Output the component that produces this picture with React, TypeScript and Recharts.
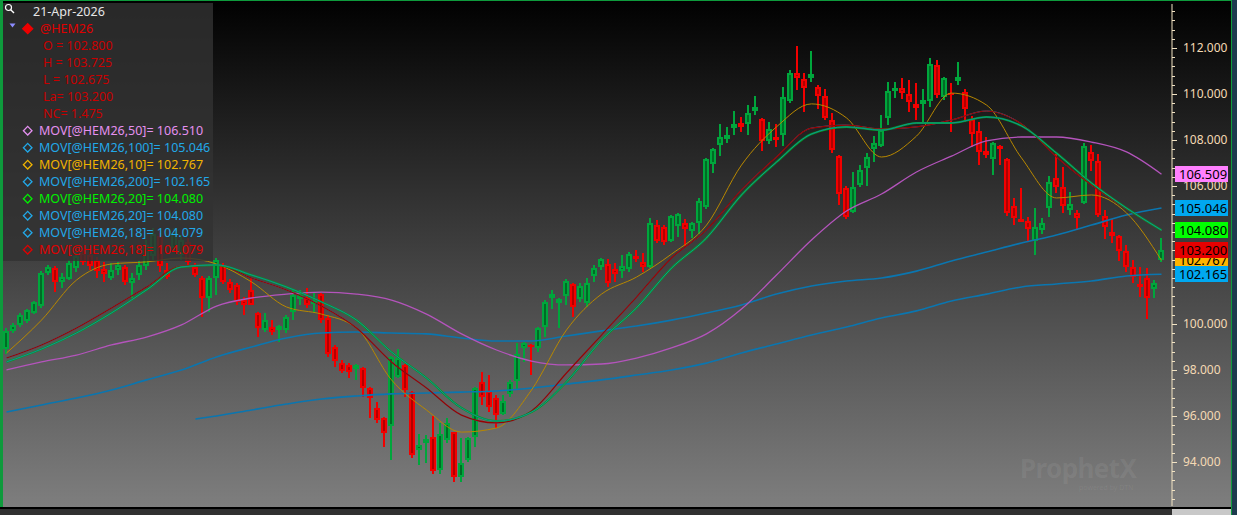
import React from "react";
import { ComposedChart, Bar, Line, XAxis, YAxis, ReferenceLine } from "recharts";

// daily bars of @HEM26, oldest first; the last one is 21-Apr-2026
const opens = [
  98.91, 99.70, 99.96, 100.13, 100.48, 100.78, 102.22, 102.43, 101.83, 101.96,
  102.43, 103.09, 103.00, 102.78, 102.39, 102.00, 102.35, 102.48, 101.78, 102.13,
  102.52, 102.96, 103.83, 102.35, 103.30, 103.00, 103.57, 102.48, 102.00, 101.13,
  102.00, 102.57, 101.83, 101.70, 101.04, 101.48, 100.48, 99.74, 99.87, 99.74,
  99.74, 100.52, 101.09, 101.13, 100.87, 101.30, 100.26, 99.00, 98.30, 98.22,
  98.04, 98.09, 97.22, 96.35, 95.91, 95.57, 97.70, 98.22, 97.04, 94.52,
  94.83, 95.09, 93.65, 94.96, 95.30, 93.35, 94.09, 95.09, 97.48, 97.09,
  96.78, 96.09, 96.96, 97.52, 98.96, 99.09, 98.96, 99.87, 101.13, 100.91,
  101.22, 101.74, 101.09, 100.91, 102.09, 102.48, 102.61, 102.39, 102.30, 102.39,
  102.96, 102.70, 102.48, 104.30, 104.22, 103.61, 104.26, 104.39, 104.04, 104.39,
  105.09, 106.96, 107.78, 108.04, 108.52, 108.74, 108.70, 109.26, 108.91, 107.96,
  108.13, 108.22, 109.70, 110.91, 110.65, 110.70, 110.30, 109.91, 108.87, 107.30,
  105.91, 104.87, 106.04, 106.78, 107.61, 107.74, 108.96, 110.13, 110.26, 110.00,
  109.57, 109.57, 109.70, 111.26, 109.87, 110.04, 110.57, 110.09, 108.91, 108.39,
  107.52, 107.17, 107.74, 107.17, 105.13, 104.57, 104.48, 103.61, 104.09, 105.04,
  106.35, 105.96, 104.96, 104.83, 105.26, 107.48, 107.09, 104.70, 104.00, 103.83,
  103.17, 102.48, 101.74, 102.00, 101.52, 102.80,
];
const highs = [
  99.83, 100.04, 100.48, 100.65, 101.00, 102.30, 102.57, 102.52, 102.22, 102.78,
  103.22, 103.22, 103.13, 102.91, 102.70, 102.65, 102.70, 102.57, 102.22, 102.74,
  103.65, 104.17, 103.96, 102.65, 104.17, 103.87, 103.74, 102.65, 102.09, 102.09,
  102.87, 102.65, 101.96, 101.78, 101.17, 102.00, 100.52, 100.48, 100.17, 99.96,
  100.39, 101.52, 101.48, 101.57, 101.35, 101.35, 100.39, 99.09, 98.43, 98.30,
  98.26, 98.13, 97.26, 96.61, 95.96, 98.61, 98.91, 98.26, 97.09, 95.22,
  95.17, 96.00, 95.70, 95.91, 95.30, 95.04, 95.09, 97.26, 97.91, 97.78,
  96.91, 96.91, 97.57, 99.17, 99.22, 99.13, 99.87, 101.04, 101.48, 101.13,
  101.96, 101.78, 101.78, 102.00, 102.57, 102.87, 102.83, 102.65, 103.00, 103.13,
  103.22, 103.09, 104.61, 104.52, 104.30, 104.74, 104.83, 104.57, 104.43, 105.48,
  107.22, 107.65, 108.70, 108.57, 109.26, 109.00, 109.52, 109.91, 108.96, 108.78,
  108.70, 110.30, 111.04, 112.09, 110.91, 111.87, 110.39, 110.22, 109.17, 107.35,
  106.00, 106.61, 106.91, 107.43, 108.17, 109.09, 110.52, 110.52, 110.70, 110.61,
  110.48, 110.22, 111.57, 111.48, 110.74, 110.48, 111.39, 110.22, 109.04, 108.78,
  108.13, 107.91, 107.78, 107.22, 105.48, 105.91, 104.65, 105.04, 104.61, 106.43,
  107.39, 106.83, 105.74, 104.96, 107.87, 107.78, 107.39, 104.96, 104.57, 103.87,
  103.43, 102.78, 102.48, 102.43, 101.91, 103.725,
];
const lows = [
  98.70, 99.61, 99.87, 100.04, 100.43, 100.70, 102.13, 101.39, 101.57, 101.91,
  102.26, 102.57, 102.35, 102.00, 101.83, 101.91, 102.13, 101.70, 101.13, 101.91,
  102.35, 102.78, 102.26, 101.96, 103.13, 102.78, 102.57, 102.04, 100.30, 100.52,
  101.26, 101.74, 101.35, 100.83, 100.39, 100.83, 99.43, 99.65, 99.52, 99.22,
  99.61, 100.17, 100.83, 100.70, 100.48, 100.04, 98.57, 98.13, 97.87, 97.65,
  97.57, 96.83, 95.91, 95.70, 94.65, 94.09, 97.65, 96.83, 94.17, 93.87,
  93.96, 93.48, 93.48, 94.83, 93.13, 93.13, 94.00, 94.65, 96.48, 96.17,
  95.48, 96.04, 96.83, 97.13, 98.35, 97.78, 98.78, 99.43, 100.65, 99.83,
  100.83, 100.30, 100.96, 100.74, 101.83, 102.35, 101.61, 101.83, 102.00, 102.26,
  102.70, 102.26, 102.43, 103.52, 103.43, 103.57, 103.78, 103.39, 103.74, 103.91,
  105.00, 106.57, 107.30, 107.87, 108.22, 108.35, 108.22, 109.09, 107.52, 107.83,
  107.70, 107.74, 109.61, 110.17, 109.22, 110.52, 109.35, 108.87, 107.43, 105.17,
  104.57, 104.83, 105.96, 106.00, 107.04, 107.70, 108.65, 109.83, 109.78, 109.22,
  108.87, 108.78, 109.43, 109.83, 109.74, 108.35, 110.39, 108.78, 107.70, 106.91,
  107.22, 106.48, 106.91, 104.70, 104.30, 104.43, 103.57, 103.00, 103.91, 104.65,
  105.70, 104.83, 104.74, 104.09, 105.22, 106.65, 104.65, 103.70, 103.52, 102.74,
  102.26, 101.78, 101.17, 100.22, 101.13, 102.675,
];
const closes = [
  99.70, 99.96, 100.39, 100.61, 100.96, 102.22, 102.48, 101.83, 102.04, 102.65,
  102.96, 102.70, 102.52, 102.30, 102.17, 102.35, 102.57, 101.83, 102.00, 102.57,
  103.43, 103.91, 102.52, 102.04, 103.96, 103.65, 102.70, 102.13, 101.13, 102.00,
  102.78, 101.83, 101.48, 100.96, 100.83, 100.83, 99.83, 100.17, 99.65, 99.91,
  100.30, 101.26, 101.26, 100.83, 101.00, 100.17, 98.70, 98.39, 97.96, 97.91,
  98.22, 97.22, 96.78, 95.83, 95.26, 98.57, 98.52, 97.13, 94.30, 94.74,
  95.00, 93.61, 95.22, 95.70, 93.35, 93.96, 95.04, 97.22, 96.83, 96.39,
  96.04, 96.65, 97.48, 98.70, 99.17, 99.00, 99.83, 100.96, 101.30, 101.09,
  101.87, 100.74, 101.65, 101.78, 102.43, 102.83, 101.78, 102.17, 102.52, 103.04,
  102.83, 102.48, 104.39, 103.61, 103.57, 104.70, 104.78, 104.13, 104.39, 105.35,
  107.17, 107.61, 108.13, 108.22, 108.70, 108.57, 109.17, 109.43, 107.96, 108.48,
  108.00, 109.87, 110.91, 110.70, 110.26, 110.87, 109.91, 108.96, 107.57, 105.65,
  104.65, 105.96, 106.70, 107.26, 107.87, 108.43, 110.13, 110.26, 110.04, 109.65,
  109.39, 109.74, 111.30, 109.96, 110.70, 109.96, 110.74, 109.35, 108.26, 107.48,
  107.35, 107.87, 107.61, 104.83, 104.61, 104.43, 104.13, 104.22, 104.39, 106.17,
  105.96, 105.13, 105.22, 104.61, 107.74, 107.09, 104.74, 104.22, 103.83, 103.17,
  102.48, 102.04, 101.61, 101.13, 101.78, 103.20,
];

// moving averages every 5th bar
const maBars = [
  0, 5, 10, 15, 20, 25, 30, 35, 40, 45, 50, 55, 60, 65, 70, 75, 80,
  85, 90, 95, 100, 105, 110, 115, 120, 125, 130, 135, 140, 145, 150, 155, 160, 165,
];
const ma10 = [
  98.74, 100.17, 101.91, 102.61, 102.70, 102.87, 102.61, 101.83, 100.74, 100.43, 99.83, 97.57, 96.26, 95.30, 95.48, 97.13, 99.74,
  101.30, 102.04, 103.04, 104.30, 106.91, 108.57, 109.57, 108.96, 107.26, 108.17, 110.04, 109.52, 107.22, 105.48, 105.61, 104.83, 102.767,
];
const ma18 = [
  98.52, 99.09, 99.83, 100.70, 101.61, 102.52, 102.57, 102.00, 101.48, 100.78, 99.83, 98.35, 97.22, 96.04, 95.70, 96.22, 97.87,
  99.52, 101.17, 102.87, 104.09, 105.83, 107.26, 108.52, 108.65, 108.48, 108.57, 108.87, 109.26, 108.70, 107.26, 106.04, 105.00, 104.079,
];
const ma20 = [
  98.35, 98.91, 99.61, 100.48, 101.48, 102.48, 102.57, 102.13, 101.61, 100.96, 100.17, 98.78, 97.65, 96.35, 95.78, 96.17, 97.48,
  99.30, 100.70, 102.43, 103.74, 105.61, 107.04, 108.26, 108.57, 108.43, 108.74, 108.74, 109.00, 108.61, 107.43, 106.13, 105.04, 104.08,
];
const ma50 = [
  98.00, 98.35, 98.65, 99.09, 99.43, 99.96, 100.78, 101.13, 101.30, 101.39, 101.30, 101.04, 100.43, 99.57, 98.87, 98.39, 98.22,
  98.26, 98.52, 98.96, 99.57, 100.65, 102.13, 103.65, 104.91, 105.65, 106.61, 107.30, 107.96, 108.13, 108.13, 107.91, 107.48, 106.51,
];
const ma100 = [
  96.17, 96.48, 96.78, 97.13, 97.57, 98.00, 98.57, 99.00, 99.39, 99.61, 99.65, 99.61, 99.57, 99.39, 99.26, 99.26, 99.48,
  99.70, 99.91, 100.17, 100.48, 100.83, 101.30, 101.65, 101.87, 102.00, 102.30, 102.74, 103.13, 103.52, 103.87, 104.30, 104.74, 105.046,
];
const ma200Bars = [
  27, 30, 35, 40, 45, 50, 55, 60, 65, 70, 75, 80, 85, 90, 95,
  100, 105, 110, 115, 120, 125, 130, 135, 140, 145, 150, 155, 160, 165,
];
const ma200 = [
  95.87, 96.00, 96.26, 96.52, 96.74, 96.87, 96.96, 97.00, 97.04, 97.09, 97.22, 97.39, 97.57, 97.78, 98.00,
  98.30, 98.74, 99.13, 99.52, 99.87, 100.26, 100.57, 101.00, 101.30, 101.61, 101.74, 101.87, 102.09, 102.165,
];

const priceLabels = [94, 96, 98, 100, 102, 104, 106, 108, 110, 112];

// last values shown in the boxes on the price scale (drawn in this order)
const badgeValues = [106.509, 105.046, 104.08, 102.767, 103.2, 102.165];
const badgeColors = ["#ff80ff", "#00a8f0", "#00ff00", "#ffb400", "#e60000", "#00a8f0"];

const legendRows = [
  { text: "MOV[@HEM26,50]= 106.510", color: "#e490f0" },
  { text: "MOV[@HEM26,100]= 105.046", color: "#22a8e8" },
  { text: "MOV[@HEM26,10]= 102.767", color: "#f0b400" },
  { text: "MOV[@HEM26,200]= 102.165", color: "#22a8e8" },
  { text: "MOV[@HEM26,20]= 104.080", color: "#00f000" },
  { text: "MOV[@HEM26,20]= 104.080", color: "#22a8e8" },
  { text: "MOV[@HEM26,18]= 104.079", color: "#22a8e8" },
  { text: "MOV[@HEM26,18]= 104.079", color: "#e00000" },
];
const quoteRows = ["O = 102.800", "H = 103.725", "L = 102.675", "La= 103.200", "NC= 1.475"];

const FONT = "'Noto Sans', 'Open Sans', sans-serif";
const MARGIN = { top: 4, right: 7, bottom: 9, left: 3 };
const DOMAIN: [number, number] = [92.087, 113.913];

// one extra empty slot on the right, like the original
const rows: any[] = [];
for (let i = 0; i <= opens.length; i++) {
  if (i < opens.length) {
    rows.push({
      bar: i + 1,
      o: opens[i], h: highs[i], l: lows[i], c: closes[i],
      range: [lows[i], highs[i]],
    });
  } else {
    rows.push({ bar: i + 1 });
  }
}
maBars.forEach((b, k) => {
  rows[b].ma10 = ma10[k];
  rows[b].ma18 = ma18[k];
  rows[b].ma20 = ma20[k];
  rows[b].ma50 = ma50[k];
  rows[b].ma100 = ma100[k];
});
ma200Bars.forEach((b, k) => {
  rows[b].ma200 = ma200[k];
});

const axisTicks: number[] = [];
for (let k = -4; k <= 49; k++) axisTicks.push(+(112 - 0.4 * k).toFixed(1));

function Candle(props: any) {
  const { x, y, width, height, payload } = props;
  if (!payload || payload.o == null) return null;
  const { o, h, l, c } = payload;
  const yTop = Math.min(y, y + height);
  const span = Math.abs(height);
  const py = (v: number) => yTop + ((h - v) / (h - l)) * span;
  const up = c >= o;
  const edge = up ? "#00a63c" : "#f20000";
  const inner = up ? "#006b26" : "#b00000";
  const cx = Math.floor(x + width / 2);
  const top = Math.round(py(Math.max(o, c)));
  const bot = Math.max(Math.round(py(Math.min(o, c))), top + 2);
  return (
    <g shapeRendering="crispEdges">
      <rect x={cx - 1} y={Math.round(py(h))} width={2} height={Math.max(Math.round(py(l)) - Math.round(py(h)), 1)} fill={edge} />
      <rect x={cx - 3} y={top} width={6} height={bot - top} fill={edge} />
      {bot - top > 4 && <rect x={cx - 1} y={top + 2} width={2} height={bot - top - 4} fill={inner} />}
    </g>
  );
}

function PriceTick(props: any) {
  const { x, y, payload } = props;
  const v = payload.value;
  const major = priceLabels.includes(v);
  return (
    <g>
      <line x1={x} x2={x + (major ? 5 : 3)} y1={Math.round(y) + 0.5} y2={Math.round(y) + 0.5} stroke="#f3e4c4" />
      {major && (
        <text x={x + 11} y={y + 4.3} fontSize={12} fontFamily={FONT} fill="#f4d9b4">
          {v.toFixed(3)}
        </text>
      )}
    </g>
  );
}

const badge = (value: number, fill: string) => (props: any) => {
  const vb = props.viewBox;
  const bx = vb.x + vb.width + 3;
  const by = Math.round(vb.y);
  return (
    <g>
      <rect x={bx} y={by - 8} width={53} height={16} fill={fill} />
      <text x={bx + 4} y={by + 4.6} fontSize={13} fontFamily={FONT} fill="#000">
        {value.toFixed(3)}
      </text>
    </g>
  );
};

function Diamond({ cy, color, filled }: { cy: number; color: string; filled?: boolean }) {
  const cx = 27.7;
  const r = filled ? 5 : 4.3;
  return (
    <path
      d={`M${cx},${cy - r} L${cx + r},${cy} L${cx},${cy + r} L${cx - r},${cy} Z`}
      fill={filled ? color : "none"}
      stroke={color}
      strokeWidth={1.3}
    />
  );
}

function InfoBox() {
  const rowY = (i: number) => 11.7 + 17 * i;
  const fs = 12.5;
  return (
    <svg width={214} height={262} style={{ position: "absolute", left: 0, top: 0 }}>
      <rect x={3} y={3} width={210} height={258} fill="rgba(50,50,50,0.82)" />
      <circle cx={8.5} cy={7.5} r={3} fill="none" stroke="#fff" strokeWidth={1.2} />
      <line x1={10.7} y1={9.7} x2={14} y2={13} stroke="#fff" strokeWidth={1.4} />
      <text x={33} y={rowY(0) + 4.5} fontSize={fs} fontFamily={FONT} fill="#e6e6e6">21-Apr-2026</text>
      <polygon points="9.5,23.5 15.5,23.5 12.5,27.5" fill="#8c8cff" />
      <Diamond cy={rowY(1)} color="#ee0000" filled />
      <text x={40} y={rowY(1) + 4.5} fontSize={fs} fontFamily={FONT} fill="#e00000">@HEM26</text>
      {quoteRows.map((t, i) => (
        <text key={t} x={43} y={rowY(i + 2) + 4.5} fontSize={fs} fontFamily={FONT} fill="#c80000">{t}</text>
      ))}
      {legendRows.map((r, i) => (
        <g key={i}>
          <Diamond cy={rowY(i + 7)} color={r.color} />
          <text x={39} y={rowY(i + 7) + 4.5} fontSize={fs} fontFamily={FONT} fill={r.color}>{r.text}</text>
        </g>
      ))}
    </svg>
  );
}

export default function App() {
  return (
    <div
      style={{
        position: "absolute", left: 0, top: 0, width: 1237, height: 515, overflow: "hidden",
        background: "linear-gradient(to bottom, #010101 0%, #808080 100%)",
      }}
    >
      <div style={{ position: "absolute", left: 1020, top: 455, fontFamily: FONT, fontWeight: 700, fontSize: 26, lineHeight: "26px", letterSpacing: -0.6, color: "rgba(255,255,255,0.07)" }}>
        ProphetX
      </div>
      <div style={{ position: "absolute", left: 1079, top: 484, fontFamily: FONT, fontSize: 7, lineHeight: "8px", color: "rgba(255,255,255,0.08)" }}>
        powered by DTN
      </div>
      <div style={{ position: "absolute", left: 0, top: 0 }}>
        <ComposedChart width={1237} height={515} data={rows} margin={MARGIN}>
          <XAxis dataKey="bar" hide padding={{ left: 0, right: 0 }} />
          <YAxis
            orientation="right"
            type="number"
            width={58}
            domain={DOMAIN}
            allowDataOverflow
            ticks={axisTicks}
            interval={0}
            tickLine={false}
            tickSize={0}
            tickMargin={0}
            axisLine={{ stroke: "#f3e4c4" }}
            tick={<PriceTick />}
          />
          <Line dataKey="ma200" stroke="#0a76b0" strokeWidth={1.6} dot={false} connectNulls type="monotone" isAnimationActive={false} />
          <Line dataKey="ma100" stroke="#0a76b0" strokeWidth={1.6} dot={false} connectNulls type="monotone" isAnimationActive={false} />
          <Line dataKey="ma50" stroke="#b454bc" strokeWidth={1.3} dot={false} connectNulls type="monotone" isAnimationActive={false} />
          <Line dataKey="ma10" stroke="#b88800" strokeWidth={1} dot={false} connectNulls type="monotone" isAnimationActive={false} />
          <Line dataKey="ma18" stroke="#1a8ac0" strokeWidth={1} dot={false} connectNulls type="monotone" isAnimationActive={false} />
          <Line dataKey="ma18" stroke="#9a0000" strokeWidth={1.2} dot={false} connectNulls type="monotone" isAnimationActive={false} />
          <Line dataKey="ma20" stroke="#00a020" strokeWidth={2} dot={false} connectNulls type="monotone" isAnimationActive={false} />
          <Line dataKey="ma20" stroke="#1488b8" strokeWidth={0.8} dot={false} connectNulls type="monotone" isAnimationActive={false} />
          <Bar dataKey="range" shape={(p: any) => <Candle {...p} />} isAnimationActive={false} />
        </ComposedChart>
      </div>
      {/* same layout again, only for the last-value boxes so they sit above the scale labels */}
      <div style={{ position: "absolute", left: 0, top: 0 }}>
        <ComposedChart width={1237} height={515} data={rows} margin={MARGIN}>
          <XAxis dataKey="bar" hide padding={{ left: 0, right: 0 }} />
          <YAxis orientation="right" type="number" width={58} domain={DOMAIN} allowDataOverflow tick={false} axisLine={false} tickLine={false} />
          {badgeValues.map((v, i) => (
            <ReferenceLine key={i} y={v} stroke="none" label={badge(v, badgeColors[i])} />
          ))}
        </ComposedChart>
      </div>
      <InfoBox />
      <div style={{ position: "absolute", left: 0, top: 0, width: 3, height: 508, background: "#0e9a3c" }} />
      <div style={{ position: "absolute", left: 0, top: 0, width: 1232, height: 1, background: "#0e9a3c" }} />
      <div style={{ position: "absolute", left: 1231, top: 0, width: 1, height: 515, background: "#0e9a3c" }} />
      <div style={{ position: "absolute", left: 1232, top: 0, width: 5, height: 515, background: "#1d3a4e" }} />
      <div style={{ position: "absolute", left: 0, top: 507, width: 1231, height: 2, background: "#000" }} />
      <div style={{ position: "absolute", left: 0, top: 509, width: 1172, height: 6, background: "#303030" }} />
      <div style={{ position: "absolute", left: 1172, top: 509, width: 59, height: 6, background: "#c8c8c8" }} />
    </div>
  );
}
